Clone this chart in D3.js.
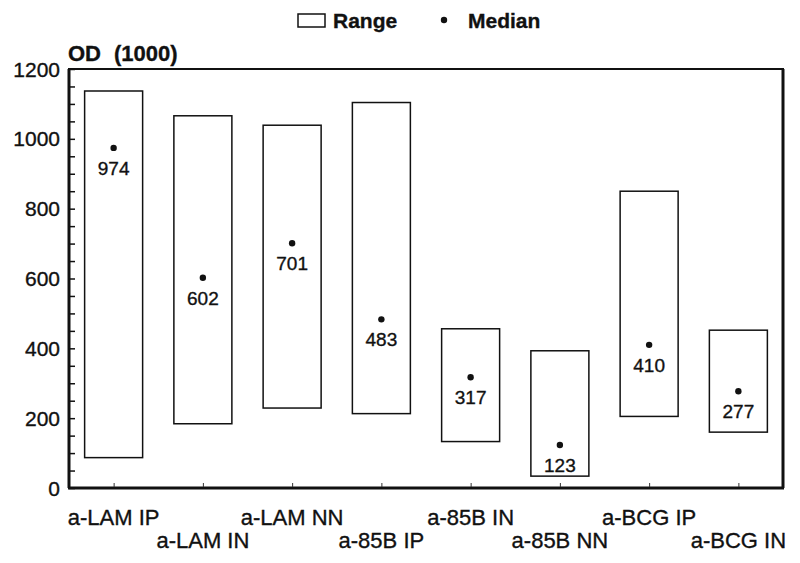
<!DOCTYPE html>
<html>
<head>
<meta charset="utf-8">
<script src="https://cdn.jsdelivr.net/npm/d3@7"></script>
<style>
  body { margin: 0; background: #fff; }
  svg text { font-family: "Liberation Sans", Arial, sans-serif; fill: #111; stroke: #111; stroke-width: 0.35px; }
</style>
</head>
<body>
<div id="chart"></div>
<script>
// data
var categories = ["a-LAM IP", "a-LAM IN", "a-LAM NN", "a-85B IP", "a-85B IN", "a-85B NN", "a-BCG IP", "a-BCG IN"];
var rangeLow  = [87, 184, 229, 213, 133, 34, 205, 160];
var rangeHigh = [1137, 1066, 1039, 1104, 456, 393, 850, 452];
var medians   = [974, 602, 701, 483, 317, 123, 410, 277];
var yTicks = [0, 200, 400, 600, 800, 1000, 1200];

function init(){
  var W = 800, H = 563;
  var left = 69, top = 69, right = 783, bottom = 488;

  var svg = d3.select("#chart")
    .append("svg")
      .attr("width", W)
      .attr("height", H);

  var rows = categories.map(function(c, i){
    return { cat: c, lo: rangeLow[i], hi: rangeHigh[i], med: medians[i], i: i };
  });

  var x = d3.scalePoint()
    .domain(categories)
    .range([left, right])
    .padding(0.5);

  var y = d3.scaleLinear()
    .domain([0, 1200])
    .range([bottom, top]);

  var boxW = 58;

  // frame
  svg.append("rect")
    .attr("x", left).attr("y", top)
    .attr("width", right - left).attr("height", bottom - top)
    .attr("fill", "none").attr("stroke", "#111").attr("stroke-width", 2);

  // thicker left / bottom / right axis lines
  svg.append("line").attr("x1", left).attr("x2", left).attr("y1", top).attr("y2", bottom)
    .attr("stroke", "#111").attr("stroke-width", 3);
  svg.append("line").attr("x1", left - 1).attr("x2", right + 1).attr("y1", bottom).attr("y2", bottom)
    .attr("stroke", "#111").attr("stroke-width", 3);
  svg.append("line").attr("x1", right).attr("x2", right).attr("y1", top).attr("y2", bottom)
    .attr("stroke", "#111").attr("stroke-width", 3);

  // y axis: inner ticks every 50, labels every 200
  var yAxis = d3.axisRight(y)
    .tickValues(d3.range(0, 1201, 50))
    .tickSize(6)
    .tickFormat("");
  var gy = svg.append("g")
    .attr("transform", "translate(" + left + ",0)")
    .call(yAxis);
  gy.select(".domain").remove();
  gy.selectAll(".tick line").attr("stroke", "#111").attr("stroke-width", 1.5);

  svg.selectAll(".ylab")
    .data(yTicks)
    .enter()
    .append("text")
      .attr("class", "ylab")
      .attr("x", left - 9)
      .attr("y", function(d){ return y(d); })
      .attr("dy", "0.36em")
      .attr("text-anchor", "end")
      .style("font-size", "21px")
      .text(function(d){ return d; });

  // x axis ticks (small, pointing up)
  var xAxis = d3.axisTop(x).tickSize(4).tickFormat("");
  var gx = svg.append("g")
    .attr("transform", "translate(0," + (bottom - 1) + ")")
    .call(xAxis);
  gx.select(".domain").remove();
  gx.selectAll(".tick line").attr("stroke", "#333").attr("stroke-width", 1);

  // staggered category labels
  svg.selectAll(".xlab")
    .data(rows)
    .enter()
    .append("text")
      .attr("class", "xlab")
      .attr("x", function(d){ return x(d.cat); })
      .attr("y", function(d){ return d.i % 2 == 0 ? 525 : 548; })
      .attr("text-anchor", "middle")
      .style("font-size", "22px")
      .text(function(d){ return d.cat; });

  // range boxes
  svg.selectAll(".box")
    .data(rows)
    .enter()
    .append("rect")
      .attr("class", "box")
      .attr("x", function(d){ return x(d.cat) - boxW / 2; })
      .attr("y", function(d){ return y(d.hi); })
      .attr("width", boxW)
      .attr("height", function(d){ return y(d.lo) - y(d.hi); })
      .attr("fill", "none")
      .attr("stroke", "#111")
      .attr("stroke-width", 1.5);

  // medians
  svg.selectAll(".med")
    .data(rows)
    .enter()
    .append("circle")
      .attr("class", "med")
      .attr("cx", function(d){ return x(d.cat); })
      .attr("cy", function(d){ return y(d.med); })
      .attr("r", 3.2)
      .attr("fill", "#111");

  svg.selectAll(".medlab")
    .data(rows)
    .enter()
    .append("text")
      .attr("class", "medlab")
      .attr("x", function(d){ return x(d.cat); })
      .attr("y", function(d){ return y(d.med) + 27; })
      .attr("text-anchor", "middle")
      .style("font-size", "19px")
      .text(function(d){ return d.med; });

  // axis title
  svg.append("text")
    .attr("x", left - 1)
    .attr("y", 61)
    .style("font-size", "22px")
    .style("font-weight", "bold")
    .text("OD");
  svg.append("text")
    .attr("x", 114)
    .attr("y", 61)
    .style("font-size", "22px")
    .style("font-weight", "bold")
    .text("(1000)");

  // legend
  svg.append("rect")
    .attr("x", 298).attr("y", 14)
    .attr("width", 27).attr("height", 13)
    .attr("fill", "none").attr("stroke", "#111").attr("stroke-width", 1.5);
  svg.append("text")
    .attr("x", 333).attr("y", 28)
    .style("font-size", "21px")
    .style("font-weight", "bold")
    .text("Range");
  svg.append("circle")
    .attr("cx", 444).attr("cy", 20).attr("r", 3.2).attr("fill", "#111");
  svg.append("text")
    .attr("x", 468).attr("y", 28)
    .style("font-size", "21px")
    .style("font-weight", "bold")
    .text("Median");
}
window.onload = init;
</script>
</body>
</html>
